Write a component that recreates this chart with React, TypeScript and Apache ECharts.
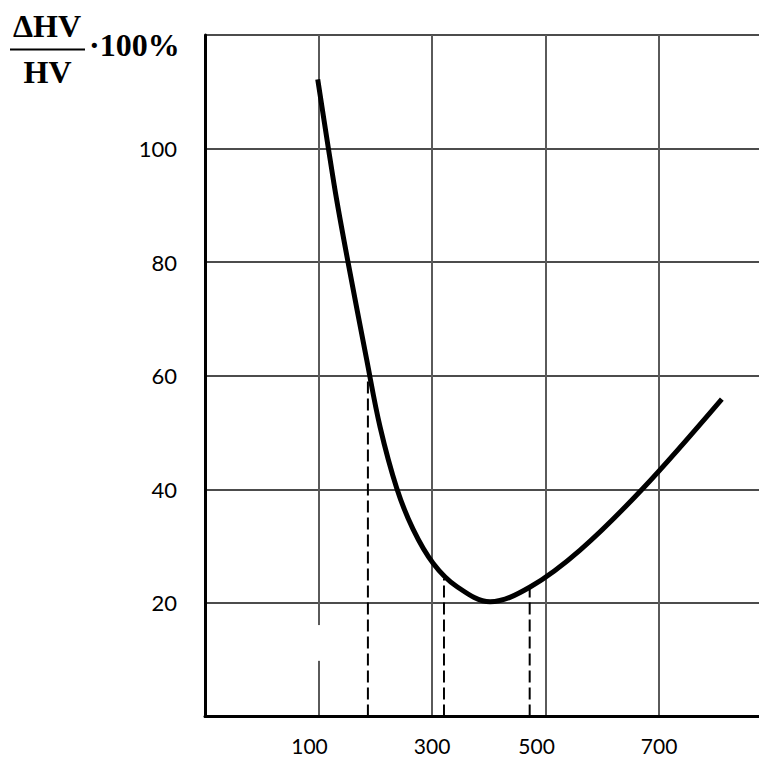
import React, { useEffect, useRef } from "react";
import * as echarts from "echarts";

// Curve: ΔHV/HV·100% versus x
const curveX = [98.6, 117.3, 132.1, 152.0, 184.9, 208.4, 237.8, 266.5, 301.8, 343.5, 402.2, 472.7, 560.8, 671.8, 810.5];
const curveY = [112.2, 100.1, 90.9, 80.0, 62.8, 51.0, 40.2, 33.0, 27.0, 22.9, 20.2, 22.8, 29.3, 40.2, 55.9];

// Dashed drop lines (x position, top value)
const dropX = [187, 321, 472];
const dropTop = [59.3, 24.3, 22.6];

// Axis tick labels
const xTickLabels = [100, 300, 500, 700];
const xShifted = [100, 500];
const yTickLabels = [20, 40, 60, 80, 100];

// Break in the x=100 gridline
const gapX = 100;
const gapY = [9.8, 16.1];

export default function App() {
  const ref = useRef<HTMLDivElement>(null);
  useEffect(() => {
    document.body.style.margin = "0";
    const chart = echarts.init(ref.current!, undefined, { renderer: "svg" });
    const dropSeries = dropX.map((x, i) => ({
      type: "line",
      data: [[x, 0], [x, dropTop[i]]],
      symbol: "none",
      silent: true,
      lineStyle: { color: "#000", width: 2, type: [12, 5] },
      z: 3,
    }));
    const labelFont = { fontFamily: "Lato", fontSize: 22, fontWeight: "normal", color: "#000" };
    const xFont = { ...labelFont, fontSize: 21, lineHeight: 16 };
    chart.setOption({
      animation: false,
      backgroundColor: "#fff",
      grid: { left: 205, right: 0, top: 35, bottom: 41.5 },
      xAxis: {
        type: "value",
        min: -100,
        max: 876,
        interval: 200,
        axisLine: { show: true, onZero: false, lineStyle: { color: "#000", width: 3 } },
        axisTick: { show: false },
        splitLine: { show: true, showMaxLine: false, lineStyle: { color: "#5a5a5a", width: 2 } },
        axisLabel: {
          margin: 21,
          ...xFont,
          showMaxLabel: false,
          formatter: (v: number) =>
            xTickLabels.includes(v) ? (xShifted.includes(v) ? `{s|${v}}` : `{n|${v}}`) : "",
          rich: {
            s: { ...xFont, padding: [0, 18, 0, 0] },
            n: { ...xFont },
          },
        },
      },
      yAxis: {
        type: "value",
        min: 0,
        max: 120,
        interval: 20,
        axisLine: { show: true, onZero: false, lineStyle: { color: "#000", width: 3 } },
        axisTick: { show: false },
        splitLine: { show: true, lineStyle: { color: "#111", width: 1.5 } },
        axisLabel: {
          margin: 28,
          ...labelFont,
          padding: [6, 0, 0, 0],
          formatter: (v: number) => (yTickLabels.includes(v) ? String(v) : ""),
        },
      },
      series: [
        {
          type: "line",
          data: gapY.map((y) => [gapX, y]),
          symbol: "none",
          silent: true,
          lineStyle: { color: "#fff", width: 5 },
          z: 1,
        },
        ...dropSeries,
        {
          type: "line",
          data: curveX.map((x, i) => [x, curveY[i]]),
          smooth: 0.35,
          symbol: "none",
          lineStyle: { color: "#000", width: 5 },
          z: 4,
        },
      ],
      graphic: [
        {
          type: "text",
          x: 47,
          y: 26,
          style: {
            text: "ΔHV",
            font: "bold 32px 'Liberation Serif'",
            fill: "#000",
            align: "center",
            verticalAlign: "middle",
          },
        },
        {
          type: "line",
          shape: { x1: 10, y1: 49.5, x2: 85, y2: 49.5 },
          style: { stroke: "#000", lineWidth: 2 },
        },
        {
          type: "text",
          x: 47.5,
          y: 72,
          style: {
            text: "HV",
            font: "bold 32px 'Liberation Serif'",
            fill: "#000",
            align: "center",
            verticalAlign: "middle",
          },
        },
        {
          type: "text",
          x: 89,
          y: 45,
          style: {
            text: "·100%",
            font: "bold 32px 'Liberation Serif'",
            fill: "#000",
            align: "left",
            verticalAlign: "middle",
          },
        },
      ],
    });
    return () => chart.dispose();
  }, []);
  return <div ref={ref} style={{ width: 759, height: 758 }} />;
}
